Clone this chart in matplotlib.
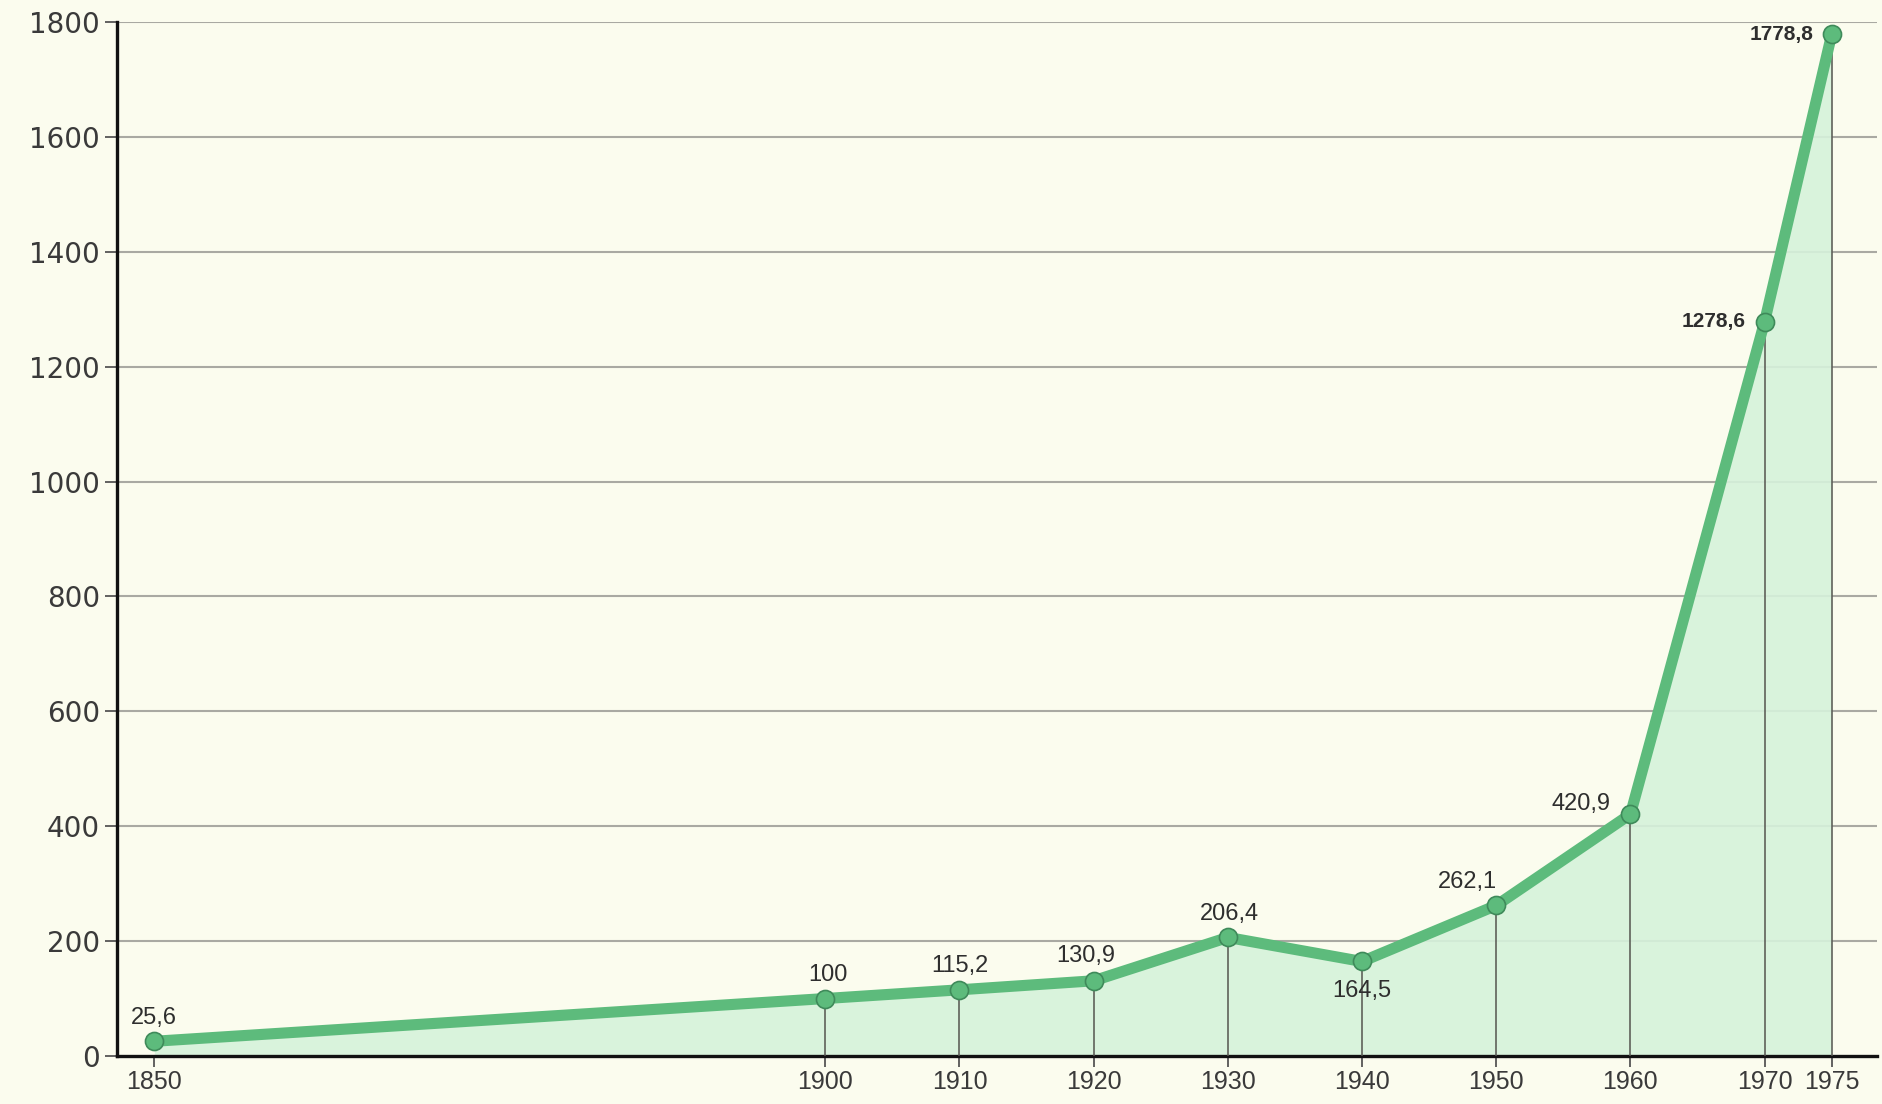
import matplotlib.pyplot as plt

plt.rcParams['font.family'] = ['Liberation Sans', 'DejaVu Sans']

# data
years = [1850, 1900, 1910, 1920, 1930, 1940, 1950, 1960, 1970, 1975]
values = [25.6, 100, 115.2, 130.9, 206.4, 164.5, 262.1, 420.9, 1278.6, 1778.8]
labels = ['25,6', '100', '115,2', '130,9', '206,4', '164,5', '262,1', '420,9', '1278,6', '1778,8']
yticks = [0, 200, 400, 600, 800, 1000, 1200, 1400, 1600, 1800]

# label offsets in points (dx, dy, ha)
offsets = [(0, 17, 'center'), (2, 17, 'center'), (0, 17, 'center'), (-6, 18, 'center'),
           (1, 17, 'center'), (0, -21, 'center'), (-21, 17, 'center'), (-14, 7, 'right'),
           (-14, 0, 'right'), (-13, 0, 'right')]

bg = '#fbfcee'
line_c = '#5dbb7c'
fill_c = '#d6f2db'

fig = plt.figure(figsize=(18.83, 11.04), dpi=100, facecolor=bg)
ax = fig.add_axes([0.062, 0.0435, 0.935, 0.9365])
ax.set_facecolor(bg)

ax.set_xlim(1847.2, 1978.4)
ax.set_ylim(0, 1800)

# horizontal grid
for v in yticks[1:]:
    ax.axhline(v, color='#a9a9a2', lw=1.5, zorder=1)

ax.fill_between(years, values, 0, color=fill_c, alpha=0.9, zorder=2, lw=0)

# drop lines from points
for x, y in zip(years[1:], values[1:]):
    ax.plot([x, x], [0, y], color='#55554f', lw=1.1, zorder=3)

ax.plot(years, values, color=line_c, lw=8, zorder=4, solid_capstyle='round')
ax.plot(years, values, 'o', ms=13, color=line_c, mec='#3f8a5a', mew=1.2, zorder=5)

for x, y, lab, (dx, dy, ha) in zip(years, values, labels, offsets):
    bold = lab in ('1278,6', '1778,8')
    ax.annotate(lab, (x, y), xytext=(dx, dy), textcoords='offset points',
                ha=ha, va='center', fontsize=15 if bold else 17,
                fontweight='bold' if bold else 'normal', color='#2e2e2e', zorder=6)

for s in ['top', 'right']:
    ax.spines[s].set_visible(False)
for s in ['left', 'bottom']:
    ax.spines[s].set_linewidth(2.4)
    ax.spines[s].set_color('#111111')

ax.set_yticks(yticks)
ax.set_xticks(years)
ax.set_xticklabels([str(y) for y in years])
ax.tick_params(axis='y', length=9, width=1.3, color='#555555', labelsize=20,
               labelcolor='#3a3a3a', pad=3)
ax.tick_params(axis='x', length=8, width=1.3, color='#555555', labelsize=18,
               labelcolor='#3a3a3a', pad=2)
for t in ax.get_yticklabels():
    t.set_family('DejaVu Sans')

plt.savefig('out.png', dpi=100, facecolor=bg)
